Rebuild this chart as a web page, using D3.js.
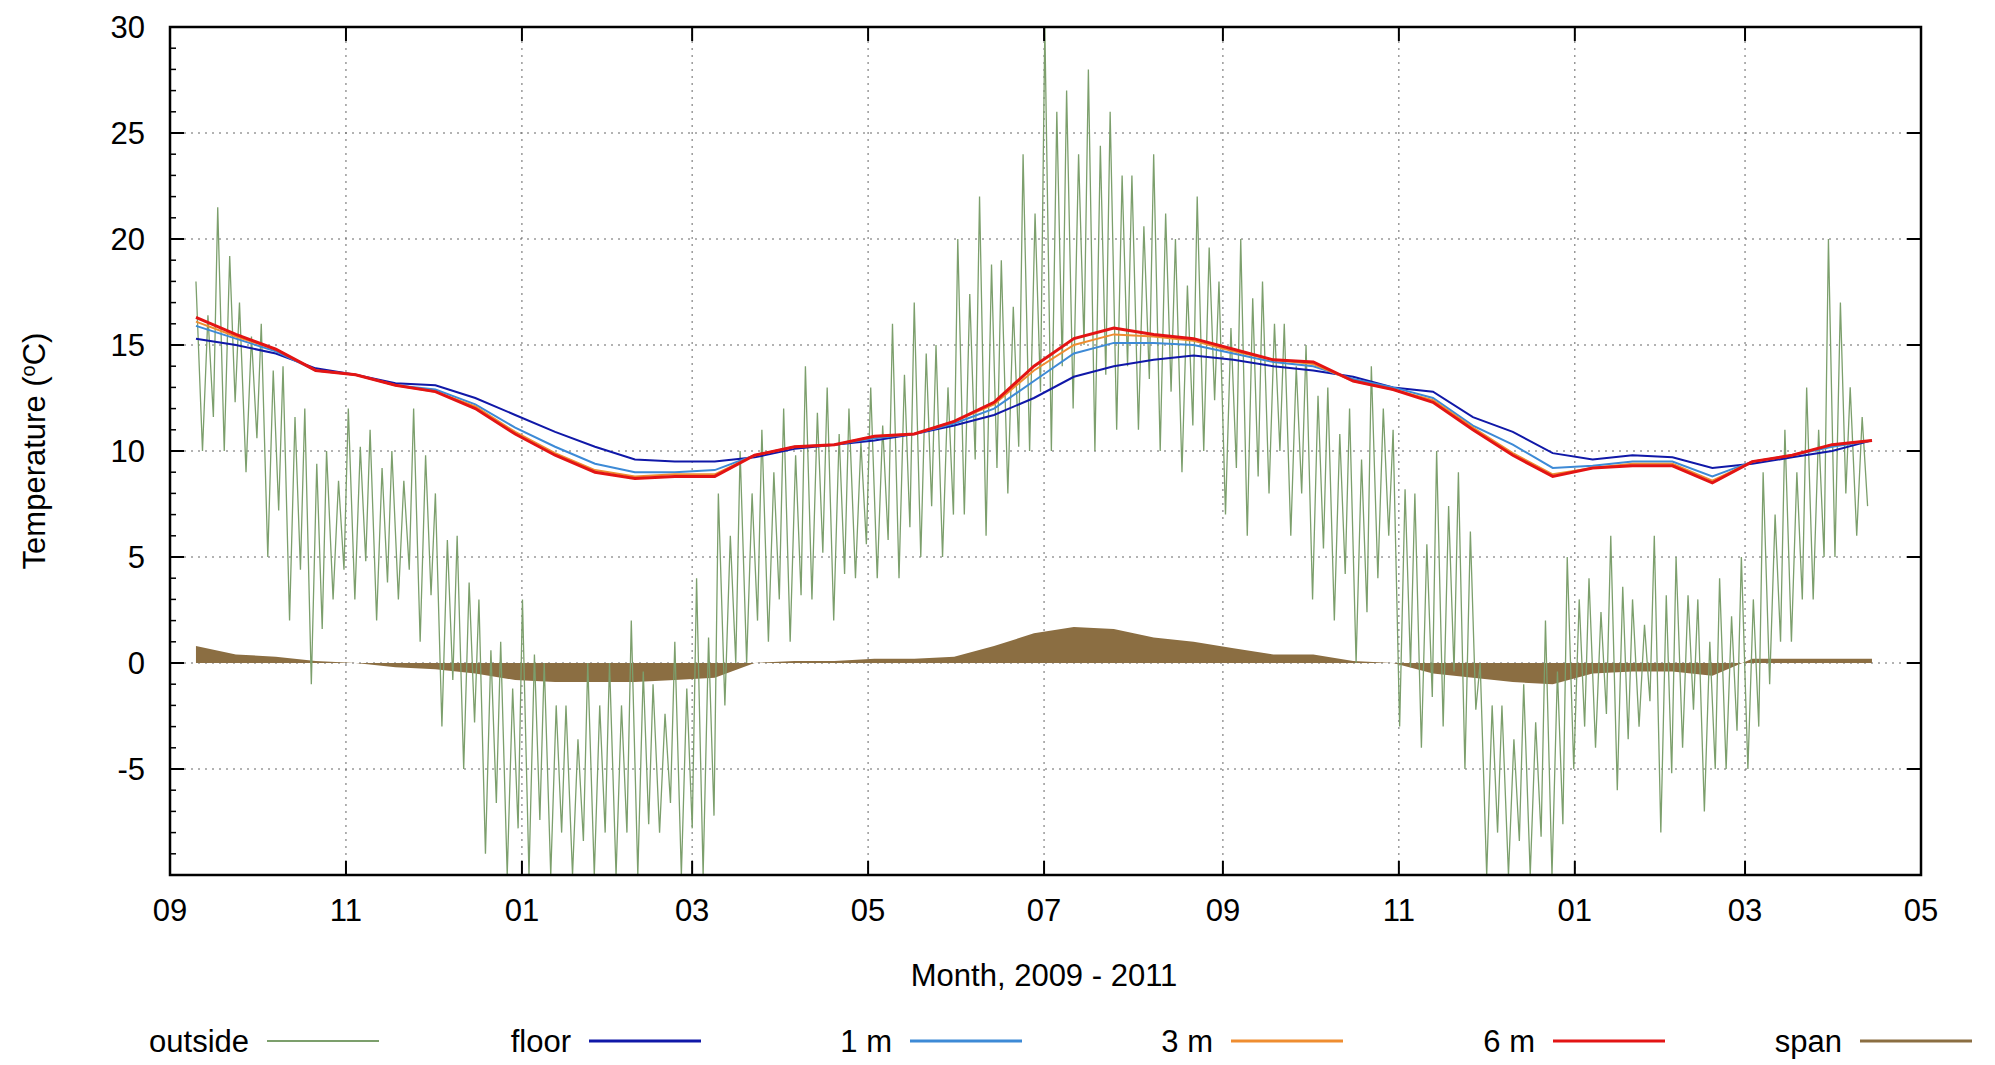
<!DOCTYPE html><html><head><meta charset="utf-8">
<script src="https://cdn.jsdelivr.net/npm/d3@7"></script>
<style>body{margin:0;background:#fff}text{font-family:"Liberation Sans",Arial,sans-serif}</style></head><body>
<svg id="c" width="1995" height="1065"></svg>
<script>
const startDate=new Date(2009,8,10), endDate=new Date(2011,3,14);
const xTickLabels=["09","11","01","03","05","07","09","11","01","03","05"];
const yTicks=[-5,0,5,10,15,20,25,30];
const outsideHi=[18,21.5,17, 16,14,12,10, 12,11,10,12, 8,6,3,1, 3,0,-2,0, 0,2,-1,1, 4,8,10,11, 12,14,13,12, 13,16,17,15, 20,22,19,24, 30,27,28,26, 23,24,20,22, 18,20,18,16, 15,13,12,14, 11,8,10,9, 0,-2,-1,2, 5,4,6,3, 6,5,3,4, 5,9,11,13, 20,13];
const outsideLo=[10,10,9, 5,2,-1,3, 3,2,3,1, -3,-5,-9,-10, -10,-10,-10,-10, -10,-10,-8,-10, -10,-2,0,1, 1,3,2,4, 4,4,5,5, 7,6,8,10, 10,12,10,11, 11,10,9,10, 7,6,8,6, 3,2,0,4, -3,-4,-3,-5, -10,-10,-10,-10, -5,-4,-6,-3, -8,-4,-7,-5, -5,-1,1,3, 5,6];
const floorT=[15.3,15.0,14.6,13.9,13.6,13.2,13.1,12.5,11.7,10.9,10.2,9.6,9.5,9.5,9.7,10.1,10.3,10.5,10.8,11.2,11.7,12.5,13.5,14.0,14.3,14.5,14.3,14.0,13.8,13.5,13.0,12.8,11.6,10.9,9.9,9.6,9.8,9.7,9.2,9.4,9.7,10.0,10.5];
const m1=[15.9,15.3,14.7,13.8,13.6,13.1,12.9,12.2,11.1,10.2,9.4,9.0,9.0,9.1,9.8,10.2,10.3,10.6,10.8,11.3,12.0,13.3,14.6,15.1,15.1,15.0,14.6,14.2,14.0,13.4,13.0,12.5,11.2,10.3,9.2,9.3,9.5,9.5,8.8,9.5,9.8,10.2,10.5];
const m3=[16.1,15.4,14.8,13.8,13.6,13.1,12.8,12.1,10.9,9.9,9.1,8.8,8.9,8.9,9.8,10.2,10.3,10.7,10.8,11.4,12.2,13.8,15.0,15.5,15.4,15.2,14.7,14.3,14.1,13.3,12.9,12.4,11.1,9.9,8.9,9.2,9.4,9.4,8.6,9.5,9.8,10.3,10.5];
const m6=[16.3,15.5,14.8,13.8,13.6,13.1,12.8,12.0,10.8,9.8,9.0,8.7,8.8,8.8,9.8,10.2,10.3,10.7,10.8,11.4,12.3,14.0,15.3,15.8,15.5,15.3,14.8,14.3,14.2,13.3,12.9,12.3,11.0,9.8,8.8,9.2,9.3,9.3,8.5,9.5,9.8,10.3,10.5];
const span=[0.8,0.4,0.3,0.1,0.0,-0.2,-0.3,-0.5,-0.8,-0.9,-0.9,-0.9,-0.8,-0.7,0.0,0.1,0.1,0.2,0.2,0.3,0.8,1.4,1.7,1.6,1.2,1.0,0.7,0.4,0.4,0.1,0.0,-0.5,-0.7,-0.9,-1.0,-0.5,-0.4,-0.4,-0.6,0.2,0.2,0.2,0.2];
const legendNames=["outside","floor","1 m","3 m","6 m","span"];
const colors=["#7c9f6c","#1018a8","#3d8ad6","#ef8d30","#e31414","#8b6e42"];

const L=170,T=27,W=1751,H=848;
const svg=d3.select("#c");
const x=d3.scaleTime().domain([new Date(2009,8,1),new Date(2011,4,1)]).range([L,L+W]);
const y=d3.scaleLinear().domain([-10,30]).range([T+H,T]);
const span0=endDate-startDate;
function dateAt(i,n){return new Date(+startDate+span0*i/(n-1));}
const xTicks=d3.range(11).map(i=>new Date(2009,8+2*i,1));
const g=svg.append("g");
g.selectAll(".gx").data(xTicks.slice(1,-1)).join("line").attr("x1",d=>x(d)).attr("x2",d=>x(d)).attr("y1",T).attr("y2",T+H).attr("stroke","#666").attr("stroke-dasharray","2,5");
g.selectAll(".gy").data(yTicks.slice(0,-1)).join("line").attr("x1",L).attr("x2",L+W).attr("y1",d=>y(d)).attr("y2",d=>y(d)).attr("stroke","#666").attr("stroke-dasharray","2,5");
svg.append("clipPath").attr("id","cp").append("rect").attr("x",L).attr("y",T).attr("width",W).attr("height",H);
const pl=svg.append("g").attr("clip-path","url(#cp)");
const n=span.length;
pl.append("path").datum(span).attr("fill",colors[5]).attr("d",d3.area().x((d,i)=>x(dateAt(i,n))).y0(y(0)).y1(d=>y(d)));
const outPts=[];
outsideHi.forEach((h,i)=>{const st=span0/outsideHi.length;const t0=+startDate+i*st;const lo=outsideLo[i];
 outPts.push([new Date(t0),h],[new Date(t0+st*0.3),lo],[new Date(t0+st*0.55),lo+(h-lo)*0.8],[new Date(t0+st*0.8),lo+(h-lo)*0.2]);});
pl.append("path").datum(outPts).attr("fill","none").attr("stroke",colors[0]).attr("stroke-width",1.3).attr("d",d3.line().x(d=>x(d[0])).y(d=>y(d[1])));
[[floorT,1],[m1,2],[m3,3],[m6,4]].forEach(([arr,ci])=>{
 pl.append("path").datum(arr).attr("fill","none").attr("stroke",colors[ci]).attr("stroke-width",ci==4?3:2).attr("d",d3.line().x((d,i)=>x(dateAt(i,arr.length))).y(d=>y(d)));});
svg.append("rect").attr("x",L).attr("y",T).attr("width",W).attr("height",H).attr("fill","none").attr("stroke","#000").attr("stroke-width",2.5);
svg.selectAll(".tx").data(xTicks).join("g").each(function(d){const s=d3.select(this);
 s.append("line").attr("x1",x(d)).attr("x2",x(d)).attr("y1",T+H).attr("y2",T+H-14).attr("stroke","#000").attr("stroke-width",2);
 s.append("line").attr("x1",x(d)).attr("x2",x(d)).attr("y1",T).attr("y2",T+14).attr("stroke","#000").attr("stroke-width",2);});
svg.selectAll(".tl").data(xTicks).join("text").attr("x",d=>x(d)).attr("y",T+H+46).attr("text-anchor","middle").attr("font-size",31).text((d,i)=>xTickLabels[i]);
svg.selectAll(".ty").data(yTicks).join("line").attr("x1",L).attr("x2",L+14).attr("y1",d=>y(d)).attr("y2",d=>y(d)).attr("stroke","#000").attr("stroke-width",2);
svg.selectAll(".ty2").data(yTicks).join("line").attr("x1",L+W).attr("x2",L+W-14).attr("y1",d=>y(d)).attr("y2",d=>y(d)).attr("stroke","#000").attr("stroke-width",2);
svg.selectAll(".ym").data(d3.range(-10,31)).join("line").attr("x1",L).attr("x2",L+6).attr("y1",d=>y(d)).attr("y2",d=>y(d)).attr("stroke","#000").attr("stroke-width",1.5);
svg.selectAll(".yl").data(yTicks).join("text").attr("x",L-25).attr("y",d=>y(d)+11).attr("text-anchor","end").attr("font-size",31).text(d=>d);
svg.append("text").attr("x",x(new Date(2010,6,1))).attr("y",986).attr("text-anchor","middle").attr("font-size",31).text("Month, 2009 - 2011");
const yl=svg.append("text").attr("transform",`translate(45,${y(10)}) rotate(-90)`).attr("text-anchor","middle").attr("font-size",31);
yl.append("tspan").text("Temperature (");yl.append("tspan").attr("dy",-10).attr("font-size",20).text("o");yl.append("tspan").attr("dy",10).text("C)");
const lx=[267,589,910,1231,1553,1860];
legendNames.forEach((nm,i)=>{
 svg.append("text").attr("x",lx[i]-18).attr("y",1052).attr("text-anchor","end").attr("font-size",31).text(nm);
 svg.append("line").attr("x1",lx[i]).attr("x2",lx[i]+112).attr("y1",1041).attr("y2",1041).attr("stroke",colors[i]).attr("stroke-width",i==0?2:3);});
</script></body></html>
